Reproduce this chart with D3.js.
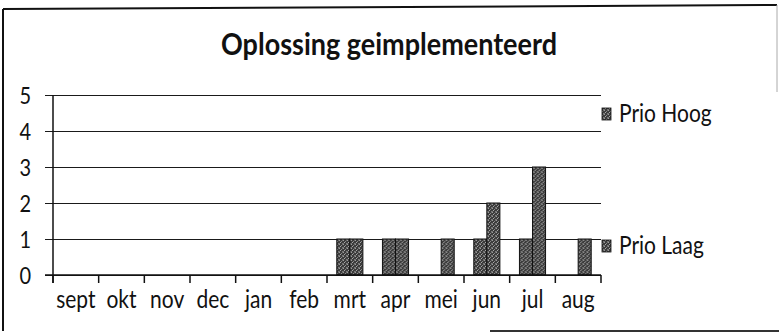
<!DOCTYPE html>
<html>
<head>
<meta charset="utf-8">
<script src="https://cdn.jsdelivr.net/npm/d3@7"></script>
<style>
  html, body { margin: 0; padding: 0; background: #fff; }
  svg { display: block; }
  text { font-family: Lato, "Open Sans", sans-serif; fill: #111; }
</style>
</head>
<body>
<script>
// Chart data
const months = ["sept", "okt", "nov", "dec", "jan", "feb", "mrt", "apr", "mei", "jun", "jul", "aug"];
const seriesNames = ["Prio Hoog", "Prio Laag"];
const prioHoog = [0, 0, 0, 0, 0, 0, 1, 1, 0, 1, 1, 0];
const prioLaag = [0, 0, 0, 0, 0, 0, 1, 1, 1, 2, 3, 1];
const yTicks = [0, 1, 2, 3, 4, 5];
const title = "Oplossing geimplementeerd";

const W = 779, H = 333;
const plot = { left: 53, right: 601, top: 95, bottom: 275 };
const stretch = 1.15; // slightly tall lettering

const svg = d3.select("body").append("svg")
  .attr("width", W).attr("height", H);

// Speckled dark grey fill for the columns
const defs = svg.append("defs");
const pat = defs.append("pattern")
  .attr("id", "stipple").attr("patternUnits", "userSpaceOnUse")
  .attr("width", 4).attr("height", 4);
pat.append("rect").attr("width", 4).attr("height", 4).attr("fill", "#3c3c3c");
[[0, 0, "#9a9a9a"], [2, 1, "#888"], [1, 2, "#a8a8a8"], [3, 3, "#7a7a7a"], [3, 0, "#666"], [0, 3, "#707070"]]
  .forEach(([px, py, c]) => pat.append("rect")
    .attr("x", px).attr("y", py).attr("width", 1).attr("height", 1).attr("fill", c));

// Chart frame
const frame = svg.append("g").attr("fill", "none");
frame.append("line").attr("x1", 3).attr("y1", 9).attr("x2", 3).attr("y2", 331)
  .attr("stroke", "#111").attr("stroke-width", 2);
frame.append("line").attr("x1", 3).attr("y1", 9).attr("x2", 777).attr("y2", 5)
  .attr("stroke", "#111").attr("stroke-width", 2);
frame.append("line").attr("x1", 777).attr("y1", 5).attr("x2", 777).attr("y2", 92)
  .attr("stroke", "#aaa").attr("stroke-width", 1);
frame.append("line").attr("x1", 490).attr("y1", 331).attr("x2", 779).attr("y2", 331)
  .attr("stroke", "#333").attr("stroke-width", 2);

// Title
svg.append("text")
  .attr("transform", `translate(389,55) scale(1,1.1)`)
  .attr("text-anchor", "middle")
  .attr("font-size", 27).attr("font-weight", 700)
  .text(title);

// Scales
const x = d3.scaleBand().domain(months).range([plot.left, plot.right]).padding(0);
const xs = d3.scaleBand().domain(seriesNames).range([0, x.bandwidth()])
  .paddingInner(0).paddingOuter(0.75);
const y = d3.scaleLinear().domain([0, 5]).range([plot.bottom, plot.top]);

// Horizontal gridlines with the y axis
const yAxis = d3.axisLeft(y).tickValues(yTicks).tickFormat(d3.format("d"))
  .tickSize(-(plot.right - plot.left)).tickSizeOuter(0).tickPadding(22);
const gy = svg.append("g").attr("transform", `translate(${plot.left},0)`).call(yAxis);
gy.select(".domain").remove();
gy.selectAll(".tick line").attr("stroke", "#1a1a1a").attr("stroke-width", 1.2)
  .attr("x1", -8);
gy.selectAll(".tick text")
  .attr("font-size", 20).attr("fill", "#111")
  .attr("font-family", "Lato, sans-serif")
  .attr("dy", null).attr("dominant-baseline", "central")
  .attr("transform", `scale(1,${stretch})`)
  .attr("y", function () { return 0; });

// Vertical axis line
svg.append("line")
  .attr("x1", plot.left).attr("x2", plot.left)
  .attr("y1", y(5)).attr("y2", plot.bottom + 8)
  .attr("stroke", "#111").attr("stroke-width", 1.5);

// Columns
const rows = months.map((m, i) => ({ month: m, values: [
  { name: seriesNames[0], value: prioHoog[i] },
  { name: seriesNames[1], value: prioLaag[i] }
]}));

const groups = svg.append("g").selectAll("g").data(rows).join("g")
  .attr("transform", d => `translate(${x(d.month)},0)`);
groups.selectAll("rect").data(d => d.values.filter(v => v.value > 0)).join("rect")
  .attr("x", d => xs(d.name))
  .attr("width", xs.bandwidth())
  .attr("y", d => y(d.value))
  .attr("height", d => y(0) - y(d.value))
  .attr("fill", "url(#stipple)")
  .attr("stroke", "#111").attr("stroke-width", 1);

// Category axis with ticks between the months
const edges = months.map(m => x(m)).concat([plot.right]);
svg.append("line")
  .attr("x1", plot.left - 8).attr("x2", plot.right)
  .attr("y1", y(0)).attr("y2", y(0))
  .attr("stroke", "#111").attr("stroke-width", 1.5);
svg.append("g").selectAll("line").data(edges).join("line")
  .attr("x1", d => d).attr("x2", d => d)
  .attr("y1", y(0)).attr("y2", y(0) + 8)
  .attr("stroke", "#111").attr("stroke-width", 1.5);
svg.append("g").selectAll("text").data(months).join("text")
  .attr("transform", d => `translate(${x(d) + x.bandwidth() / 2},308) scale(1,${stretch})`)
  .attr("text-anchor", "middle")
  .attr("font-size", 21)
  .text(d => d);

// Legend
const legendY = [122, 254];
const legend = svg.append("g").selectAll("g").data(seriesNames).join("g")
  .attr("transform", (d, i) => `translate(0,${legendY[i]})`);
legend.append("rect")
  .attr("x", 602).attr("y", -14).attr("width", 9).attr("height", 12)
  .attr("fill", "url(#stipple)").attr("stroke", "#111").attr("stroke-width", 0.8);
legend.append("text")
  .attr("transform", `translate(619,0) scale(1,${stretch})`)
  .attr("font-size", 21)
  .text(d => d);
</script>
</body>
</html>
